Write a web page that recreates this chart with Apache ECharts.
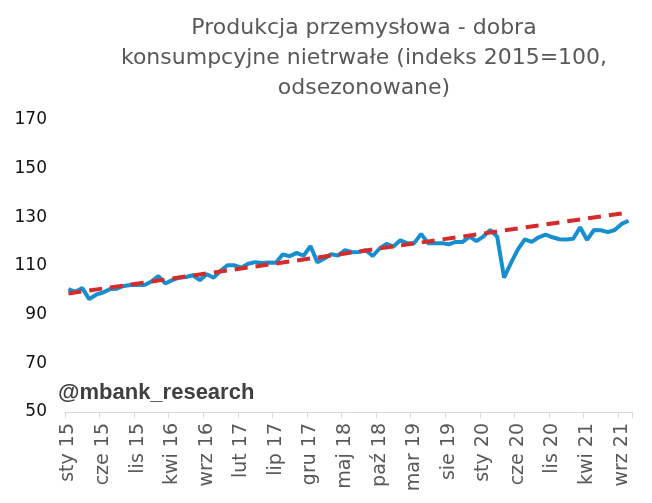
<!DOCTYPE html>
<html>
<head>
<meta charset="utf-8">
<script src="https://cdn.jsdelivr.net/npm/echarts@6/dist/echarts.min.js"></script>
<style>html,body{margin:0;padding:0;background:#fff}#c{width:652px;height:503px}</style>
</head>
<body>
<div id="c"></div>
<script>
const monthNames = ['sty','lut','mar','kwi','maj','cze','lip','sie','wrz','paź','lis','gru'];
const startYear = 2015;
const monthCount = 82;
const categories = [];
for (let i = 0; i < monthCount; i++) {
  const y = startYear + Math.floor(i / 12);
  categories.push(monthNames[i % 12] + ' ' + String(y).slice(2));
}
const production = [
  100.5, 99.4, 100.9, 96.4, 98.2, 99.1, 100.5, 100.7, 101.8, 102.2,
  102.2, 102.2, 103.6, 105.9, 102.8, 104.2, 105.2, 105.5, 106.2, 104.2,
  106.6, 105.2, 108.0, 110.3, 110.3, 109.3, 110.9, 111.6, 111.2, 111.4,
  111.3, 114.8, 114.0, 115.4, 114.2, 118.2, 111.5, 113.1, 114.8, 114.3,
  116.5, 115.7, 115.8, 116.5, 114.1, 117.2, 119.1, 118.0, 120.6, 119.3,
  119.4, 123.2, 119.4, 119.4, 119.4, 118.9, 119.9, 119.9, 122.1, 120.2,
  122.1, 124.8, 122.1, 105.2, 111.3, 116.8, 120.9, 119.9, 121.8, 122.9,
  121.8, 121.0, 120.9, 121.2, 125.9, 120.7, 124.8, 124.7, 123.9, 124.8,
  127.3, 128.6
];
const trendStart = 98.7;
const trendEnd = 132.0;
const trend = categories.map((c, i) => i === 0 ? trendStart : (i === monthCount - 1 ? trendEnd : null));
const yTicks = [50, 70, 90, 110, 130, 150, 170];

const chart = echarts.init(document.getElementById('c'), null, {renderer: 'canvas'});
chart.setOption({
  animation: false,
  backgroundColor: '#ffffff',
  title: {
    text: 'Produkcja przemysłowa - dobra\nkonsumpcyjne nietrwałe (indeks 2015=100,\nodsezonowane)',
    left: 359, top: 8, textAlign: 'center',
    textStyle: {fontFamily: 'DejaVu Sans', fontSize: 22, fontWeight: 'normal', color: '#595959', lineHeight: 30}
  },
  graphic: [{
    type: 'text', left: 58, top: 382,
    style: {text: '@mbank_research', font: 'bold 22px "Liberation Sans"', fill: '#404040'}
  }],
  grid: {left: 65, right: 20, top: 120, bottom: 91, containLabel: false},
  xAxis: {
    type: 'category', data: categories, boundaryGap: true,
    axisLine: {show: true, lineStyle: {color: '#d9d9d9', width: 1}},
    axisTick: {show: true, interval: 4, length: 6, lineStyle: {color: '#d9d9d9'}},
    axisLabel: {interval: 4, rotate: 90, margin: 11, fontFamily: 'DejaVu Sans', fontSize: 19, color: '#595959'},
    splitLine: {show: false}
  },
  yAxis: {
    type: 'value', min: yTicks[0], max: yTicks[yTicks.length - 1], interval: 20,
    axisLine: {show: false}, axisTick: {show: false}, splitLine: {show: false},
    axisLabel: {margin: 18, fontFamily: 'DejaVu Sans', fontSize: 17, color: '#111111'}
  },
  series: [
    {
      name: 'trend', type: 'line', data: trend, connectNulls: true, showSymbol: false, symbol: 'none',
      lineStyle: {color: '#d52b2b', width: 4, type: [13, 8]}, z: 3
    },
    {
      name: 'produkcja', type: 'line', data: production, showSymbol: false, symbol: 'none',
      lineStyle: {color: '#178ecf', width: 4}, z: 2
    }
  ]
});
</script>
</body>
</html>
